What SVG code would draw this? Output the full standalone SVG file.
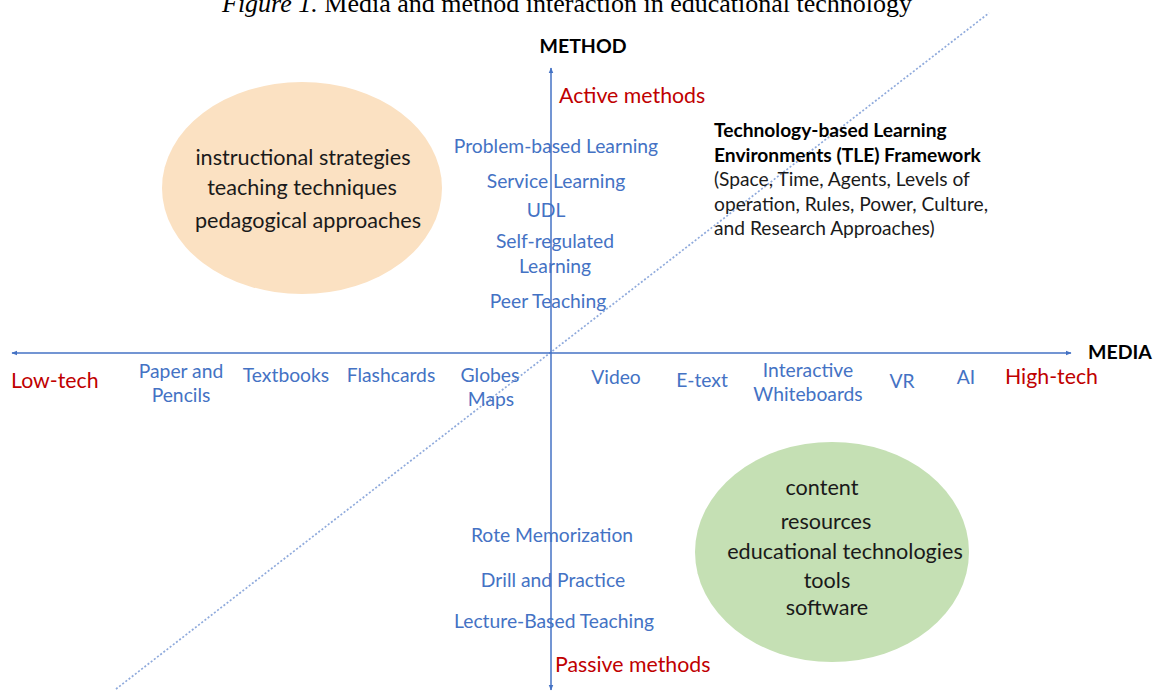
<svg xmlns="http://www.w3.org/2000/svg" width="1158" height="691" viewBox="0 0 1158 691">
  <style>
    .cap { font-family: "Liberation Serif", "Times New Roman", serif; font-size: 26px; fill: #000; }
    .axis-title { font-family: Lato, "Liberation Sans", sans-serif; font-weight: bold; font-size: 19.5px; fill: #000; }
    .pole { font-family: Lato, "Liberation Sans", sans-serif; font-size: 21.3px; fill: #c00000; }
    .item { font-family: Lato, "Liberation Sans", sans-serif; font-size: 19.3px; fill: #4472c4; text-anchor: middle; }
    .blob { font-family: Lato, "Liberation Sans", sans-serif; font-size: 21.6px; fill: #1a1a1a; text-anchor: middle; }
    .tle { font-family: Lato, "Liberation Sans", sans-serif; font-size: 19.2px; fill: #1a1a1a; }
    .tle-b { font-weight: bold; fill: #000; font-size: 19.2px; }
    .axis { stroke: #4472c4; stroke-width: 1.5; fill: none; }
    .diag { stroke: #8faadc; stroke-width: 1.7; stroke-dasharray: 2 2; fill: none; }
  </style>
  <defs>
    <marker id="head" viewBox="0 0 10 10" refX="9" refY="5" markerWidth="6" markerHeight="6" orient="auto-start-reverse" markerUnits="userSpaceOnUse">
      <path d="M0,1 L10,5 L0,9 Z" fill="#4472c4"/>
    </marker>
  </defs>

  <rect width="1158" height="691" fill="#fff"/>

  <!-- caption, clipped by the top edge -->
  <text class="cap" x="222" y="12"><tspan font-style="italic">Figure 1.</tspan> Media and method interaction in educational technology</text>

  <!-- shaded groupings -->
  <g id="method-blob">
    <ellipse cx="302" cy="188" rx="140" ry="106" fill="#fbe1c2"/>
    <text class="blob" x="303" y="165">instructional strategies</text>
    <text class="blob" x="302" y="195">teaching techniques</text>
    <text class="blob" x="308" y="228">pedagogical approaches</text>
  </g>
  <g id="media-blob">
    <ellipse cx="832" cy="552" rx="137" ry="110" fill="#c5e0b4"/>
    <text class="blob" x="822" y="495">content</text>
    <text class="blob" x="826" y="529">resources</text>
    <text class="blob" x="845" y="559">educational technologies</text>
    <text class="blob" x="827" y="588">tools</text>
    <text class="blob" x="827" y="615">software</text>
  </g>

  <!-- axes and diagonal -->
  <g id="connectors">
    <line class="diag" x1="116" y1="689" x2="989" y2="13"/>
    <line class="axis" x1="12" y1="353" x2="1071" y2="353" marker-start="url(#head)" marker-end="url(#head)"/>
    <line class="axis" x1="551" y1="68" x2="551" y2="690" marker-start="url(#head)" marker-end="url(#head)"/>
  </g>

  <g id="method-axis">
    <text class="axis-title" x="583" y="53" text-anchor="middle">METHOD</text>
    <text class="pole" x="559" y="103">Active methods</text>
    <text class="pole" x="555" y="672">Passive methods</text>
  </g>
  <g id="media-axis">
    <text class="axis-title" x="1088" y="359">MEDIA</text>
    <text class="pole" x="11" y="388">Low-tech</text>
    <text class="pole" x="1005" y="384">High-tech</text>
  </g>

  <g id="active-methods">
    <text class="item" x="556" y="153">Problem-based Learning</text>
    <text class="item" x="556" y="188">Service Learning</text>
    <text class="item" x="546" y="217">UDL</text>
    <text class="item" x="555" y="248">Self-regulated</text>
    <text class="item" x="555" y="273">Learning</text>
    <text class="item" x="548" y="308">Peer Teaching</text>
  </g>
  <g id="passive-methods">
    <text class="item" x="552" y="542">Rote Memorization</text>
    <text class="item" x="553" y="587">Drill and Practice</text>
    <text class="item" x="554" y="628">Lecture-Based Teaching</text>
  </g>

  <g id="low-tech-media">
    <text class="item" x="181" y="378">Paper and</text>
    <text class="item" x="181" y="402">Pencils</text>
    <text class="item" x="286" y="382">Textbooks</text>
    <text class="item" x="391" y="382">Flashcards</text>
    <text class="item" x="490" y="382">Globes</text>
    <text class="item" x="491" y="406">Maps</text>
  </g>
  <g id="high-tech-media">
    <text class="item" x="616" y="384">Video</text>
    <text class="item" x="702" y="387">E-text</text>
    <text class="item" x="808" y="377">Interactive</text>
    <text class="item" x="808" y="401">Whiteboards</text>
    <text class="item" x="902" y="388">VR</text>
    <text class="item" x="966" y="384">AI</text>
  </g>

  <g id="tle-framework">
    <text class="tle tle-b" x="714" y="137">Technology-based Learning</text>
    <text class="tle tle-b" x="714" y="162">Environments (TLE) Framework</text>
    <text class="tle" x="714" y="186">(Space, Time, Agents, Levels of</text>
    <text class="tle" x="714" y="211">operation, Rules, Power, Culture,</text>
    <text class="tle" x="714" y="235">and Research Approaches)</text>
  </g>
</svg>
